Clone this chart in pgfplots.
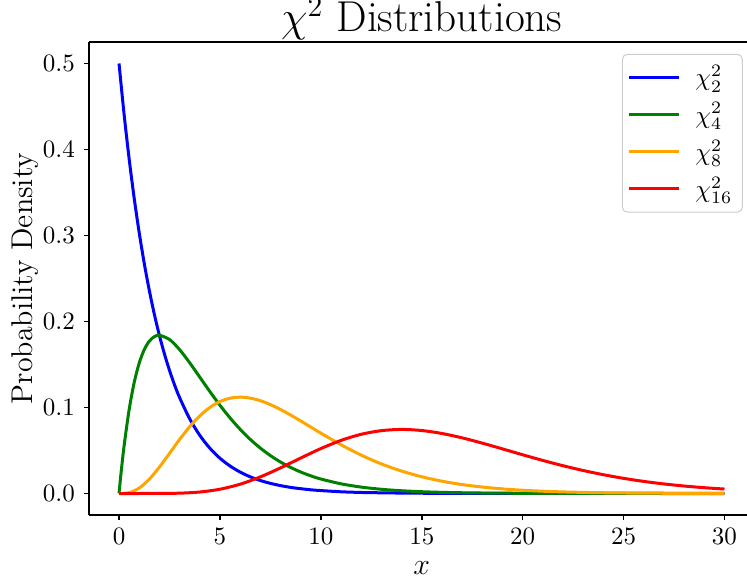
\documentclass[border=0pt]{standalone}
\usepackage{pgfplots}
\pgfplotsset{compat=1.18}
\definecolor{mgreen}{RGB}{0,128,0}
\definecolor{morange}{RGB}{255,165,0}
\begin{document}
\begin{tikzpicture}
\begin{axis}[
  at={(0pt,0pt)}, anchor=south west,
  scale only axis, width=266.4pt, height=189.2pt,
  xmin=-1.5, xmax=31.5, ymin=-0.025, ymax=0.525,
  axis x line=box, axis y line*=left,
  xtick={0,5,10,15,20,25,30},
  ytick={0,0.1,0.2,0.3,0.4,0.5},
  yticklabel style={/pgf/number format/.cd,fixed,fixed zerofill,precision=1},
  tick label style={font=\normalsize},
  tick align=outside, major tick length=2pt,
  xtick pos=left, ytick pos=left,
  axis line style={-, line width=0.6pt},
  every tick/.style={black, line width=0.6pt},
  title={$\chi^2$ Distributions},
  every axis title/.style={at={(axis description cs:0.5,1)}, anchor=base, yshift=4pt, font=\LARGE},
  xlabel={$x$},
  xlabel style={font=\large, at={(axis description cs:0.5,0)}, anchor=base, yshift=-23.8pt},
  ylabel={Probability Density},
  ylabel style={font=\large, at={(axis description cs:-0.0957,0.5)}, anchor=center},
  legend cell align=left,
  legend style={at={(rel axis cs:0.982,0.975)}, anchor=north east,
    draw=black!20, rounded corners=2pt, font=\normalsize,
    row sep=1.2pt, inner xsep=2pt, inner ysep=2.5pt,
    /tikz/every odd column/.append style={column sep=4pt}},
  legend image code/.code={\draw[#1] (0pt,0pt) -- (20pt,0pt);},
  every axis plot/.append style={line width=1.2pt},
]
\addplot[blue, smooth] coordinates {
(0,0.5) (0.25,0.4412) (0.5,0.3894) (0.75,0.3436) (1,0.3033) (1.25,0.2676) (1.5,0.2362) (1.75,0.2084) (2,0.1839) (2.25,0.1623) (2.5,0.1433) (2.75,0.1264) (3,0.1116) (3.5,0.0869) (4,0.0677) (4.5,0.0527) (5,0.0410) (5.5,0.0320) (6,0.0249) (6.5,0.0194) (7,0.0151) (7.5,0.0118) (8,0.0092) (8.5,0.0071) (9,0.0056) (9.5,0.0043) (10,0.0034) (11,0.0020) (12,0.0012) (13,0.0008) (14,0.0005) (15,0.0003) (16,0.0002) (17,0.0001) (18,0.00006) (20,0.00002) (25,0.000002) (30,0.0)
};
\addlegendentry{$\chi^2_2$}
\addplot[mgreen, smooth] coordinates {
(0,0) (0.05,0.01219) (0.1,0.02378) (0.25,0.05516) (0.5,0.09735) (0.75,0.12887) (1,0.15163) (1.25,0.16727) (1.5,0.17714) (1.75,0.18238) (2,0.18394) (2.5,0.17907) (3,0.16735) (3.5,0.15205) (4,0.13534) (4.5,0.11857) (5,0.10261) (5.5,0.08790) (6,0.07468) (6.5,0.06301) (7,0.05284) (7.5,0.04410) (8,0.03663) (8.5,0.03031) (9,0.02500) (9.5,0.02055) (10,0.01684) (11,0.01124) (12,0.00744) (13,0.00488) (14,0.00319) (15,0.00207) (16,0.00134) (17,0.00086) (18,0.00056) (19,0.00036) (20,0.00023) (21,0.000145) (22,0.0000919) (23,0.0000582) (24,0.0000368) (25,0.0000233) (26,0.0000147) (27,0.0000092) (28,0.0000058) (29,0.0000037) (30,0.0000023)
};
\addlegendentry{$\chi^2_4$}
\addplot[morange, smooth] coordinates {
(0,0) (0.5,0.001014) (1,0.006318) (1.5,0.016607) (2,0.030657) (2.5,0.046632) (3,0.062755) (3.5,0.077611) (4,0.090223) (4.5,0.100047) (5,0.106882) (5.5,0.110793) (6,0.112021) (6.5,0.110922) (7,0.107891) (7.5,0.103352) (8,0.097685) (8.5,0.091249) (9,0.084359) (9.5,0.077271) (10,0.070188) (11,0.056665) (12,0.044622) (13,0.034397) (14,0.026068) (15,0.019441) (16,0.014293) (17,0.010389) (18,0.007497) (19,0.005351) (20,0.003783) (21,0.002657) (22,0.001852) (23,0.001284) (24,0.000884) (25,0.000607) (26,0.000414) (27,0.000281) (28,0.000190) (29,0.000128) (30,0.000086)
};
\addlegendentry{$\chi^2_8$}
\addplot[red, smooth] coordinates {
(0,0) (1,0.00000047) (2,0.0000365) (3,0.000378) (4,0.001719) (5,0.004970) (6,0.010802) (7,0.019274) (8,0.029770) (9,0.041181) (10,0.052223) (11,0.061728) (12,0.068845) (13,0.073096) (14,0.074501) (15,0.073241) (16,0.069793) (17,0.064709) (18,0.058558) (19,0.051857) (20,0.045040) (21,0.038439) (22,0.032289) (23,0.026732) (24,0.021841) (25,0.017629) (26,0.014071) (27,0.011115) (28,0.008696) (29,0.006743) (30,0.005185)
};
\addlegendentry{$\chi^2_{16}$}
\end{axis}
\pgfresetboundingbox
\path[use as bounding box] (-35.5pt,-26pt) rectangle (263.3pt,206pt);
\end{tikzpicture}
\end{document}
